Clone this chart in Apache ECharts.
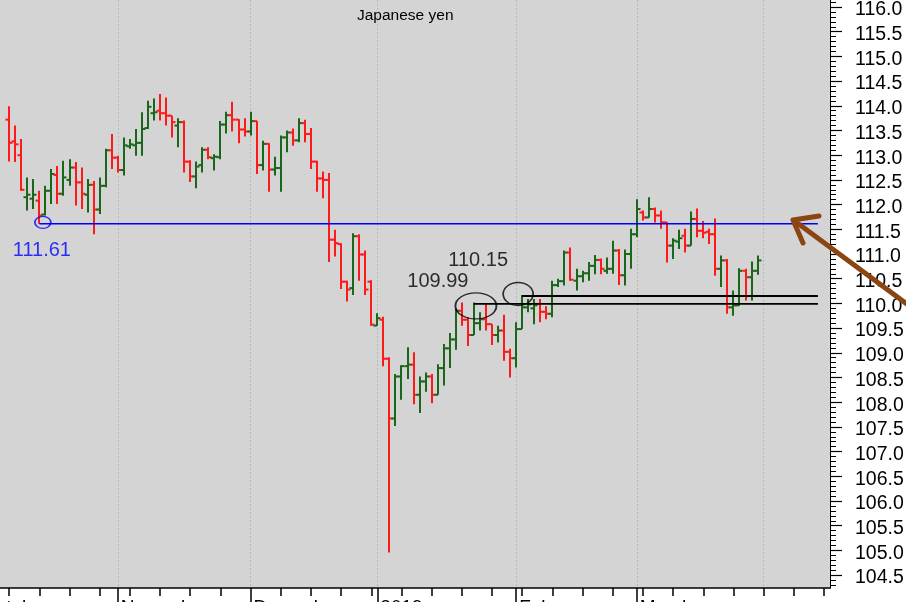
<!DOCTYPE html>
<html><head><meta charset="utf-8">
<script src="https://cdn.jsdelivr.net/npm/echarts@6/dist/echarts.min.js"></script>
<style>html,body{margin:0;padding:0;background:#fff}#c{width:906px;height:602px}</style>
</head><body><div id="c"></div>
<script>
// ---- data (USD/JPY daily OHLC) ----
const firstBarDate = '2018-10-08';
const axisStart = '2018-10-01';
const axisEnd = '2019-04-16';
const openP = [
113.72,113.28,113.00,112.15,112.12,112.08,111.80,112.28,112.60,112.22,112.50,112.75,112.45,112.20,112.40,111.90,112.38,113.10,
112.95,112.70,113.18,113.20,113.25,113.55,113.85,113.90,113.85,113.80,113.60,113.67,112.87,112.57,112.80,113.11,112.94,112.96,113.62,113.81,113.72,113.52,
113.48,113.69,112.80,113.23,112.71,112.74,113.36,113.46,113.30,113.65,113.43,112.87,112.53,112.50,111.29,111.20,110.44,110.31,111.36,110.99,110.44,
109.55,109.67,108.88,107.67,108.52,108.73,108.76,108.15,108.42,108.52,108.15,108.69,109.09,109.27,109.85,109.67,109.36,109.60,109.68,109.58,109.36,109.45,109.02,
108.89,109.48,109.92,109.90,109.99,109.83,109.79,110.37,110.45,111.03,110.46,110.55,110.61,110.76,110.88,110.66,110.70,111.07,110.57,111.00,
111.40,111.84,111.74,111.91,111.78,111.64,111.17,111.25,111.37,111.17,111.71,111.47,111.45,111.40,110.70,110.87,109.92,109.96,110.66,110.53,110.66];
const highP = [
113.99,113.60,113.33,112.55,112.52,112.28,112.38,112.72,112.78,112.89,112.92,112.86,112.75,112.52,112.48,112.55,113.13,113.43,
112.99,113.36,113.33,113.53,113.87,114.10,114.15,114.24,114.17,113.80,113.75,113.70,112.90,112.87,113.16,113.16,113.02,113.69,113.88,114.08,113.73,113.75,
113.88,113.69,113.29,113.24,112.97,113.40,113.50,113.54,113.75,113.72,113.55,112.89,112.67,112.64,111.49,111.22,110.46,111.42,111.40,111.07,110.47,
109.80,109.73,108.91,108.57,108.75,109.11,109.01,108.52,108.60,108.57,108.77,109.18,109.40,109.89,110.02,109.72,110.02,109.82,109.99,109.58,109.55,109.77,109.08,
109.62,110.17,110.09,110.09,110.09,109.94,110.46,110.50,111.07,111.13,110.70,110.66,110.84,110.98,110.91,110.93,111.27,111.10,111.09,111.51,
112.11,111.88,112.15,111.94,111.88,111.65,111.32,111.49,111.51,111.86,111.92,111.67,111.51,111.72,110.97,110.90,110.26,110.71,110.70,110.85,110.97];
const lowP = [
112.87,112.86,112.28,111.88,111.91,111.61,111.78,112.01,112.01,112.18,112.38,111.98,111.91,111.84,111.40,111.81,112.35,112.72,
112.65,112.59,113.13,112.99,112.99,113.53,113.70,113.70,113.60,113.36,113.16,112.65,112.46,112.33,112.65,112.92,112.69,112.92,113.44,113.48,113.24,113.38,
113.40,112.62,112.69,112.26,112.59,112.26,113.06,113.19,113.26,113.26,112.72,112.26,112.13,110.84,110.95,110.29,110.04,110.17,110.46,110.17,109.55,
109.55,108.73,104.96,107.52,108.05,108.47,107.96,107.78,108.21,107.98,108.15,108.34,108.69,109.06,109.55,109.14,109.36,109.45,109.45,109.16,109.21,108.84,108.50,
108.70,109.48,109.82,109.58,109.62,109.68,109.72,110.33,110.36,110.46,110.26,110.43,110.46,110.59,110.59,110.60,110.60,110.37,110.36,110.70,
111.34,111.68,111.74,111.64,111.51,110.83,110.90,111.10,111.03,111.17,111.34,111.32,111.20,110.56,110.33,109.79,109.75,109.95,110.06,110.06,110.58];
const closeP = [
113.25,113.22,112.30,112.20,112.20,111.78,112.28,112.62,112.22,112.55,112.75,112.45,112.22,112.40,111.90,112.38,113.10,112.95,
112.70,113.20,113.22,113.25,113.53,113.98,113.87,113.85,113.80,113.67,113.67,112.87,112.57,112.77,113.11,112.96,112.97,113.62,113.81,113.72,113.52,113.48,
113.69,112.80,113.23,112.71,112.74,113.36,113.46,113.30,113.65,113.43,112.87,112.53,112.50,111.29,111.22,110.44,110.28,111.36,110.99,110.28,109.57,
109.70,108.88,107.67,108.52,108.73,108.76,108.15,108.42,108.52,108.15,108.69,109.09,109.27,109.85,109.67,109.36,109.60,109.68,109.58,109.36,109.45,109.02,108.89,
109.48,109.92,109.98,109.96,109.83,109.79,110.37,110.45,111.03,110.48,110.55,110.61,110.76,110.88,110.70,110.70,111.07,110.57,111.00,111.40,
111.91,111.74,111.91,111.78,111.64,111.17,111.27,111.32,111.17,111.71,111.47,111.43,111.40,110.70,110.87,109.92,109.96,110.66,110.53,110.66,110.87];

// tick labels
const monthKeys = ['2018-10','2018-11','2018-12','2019-01','2019-02','2019-03','2019-04'];
const monthLabels = ['October','November','December','2019','February','March','April'];

// annotated levels
const levelValues = [111.61, 110.15, 109.99];
const levelLabels = ['111.61', '110.15', '109.99'];
const levelStartDates = ['2018-10-15', '2019-02-04', '2019-01-23'];
const levelMarkDates = ['2018-10-15', '2019-02-01', '2019-01-23'];
const levelEndDate = '2019-04-12';
const titleText = 'Japanese yen';

// ---- build ----
const cats = [];
for (let t = Date.UTC(+axisStart.slice(0,4), +axisStart.slice(5,7)-1, +axisStart.slice(8,10));
     t <= Date.UTC(+axisEnd.slice(0,4), +axisEnd.slice(5,7)-1, +axisEnd.slice(8,10)); t += 86400000) {
  const d = new Date(t); const w = d.getUTCDay();
  if (w === 0 || w === 6) continue;
  cats.push(d.toISOString().slice(0,10));
}
const isMonthStart = cats.map((c,i) => i === 0 || c.slice(0,7) !== cats[i-1].slice(0,7));
const isMonday = cats.map(c => new Date(c + 'T00:00:00Z').getUTCDay() === 1);
const first = cats.indexOf(firstBarDate);
const bars = openP.map((o,i) => [first + i, o, highP[i], lowP[i], closeP[i]]);
const ci = d => cats.indexOf(d);

const RED = '#ff1a1a', GREEN = '#1a661a';
const FONT = 'Liberation Sans, Arial, sans-serif';
const yFmt = v => (v < 104.25 || v > 116.25) ? '' : v.toFixed(1);

const chart = echarts.init(document.getElementById('c'), null, {renderer:'canvas'});
chart.setOption({
  backgroundColor: '#ffffff',
  animation: false,
  title: { text: titleText, left: 352, top: 3,
    textStyle: { fontSize: 15.5, fontWeight: 'normal', color: '#000', fontFamily: FONT } },
  grid: [
    { left: -21, right: 76, top: -17.7, bottom: 2.2, outerBoundsMode: 'none', containLabel: false },
    { left: -21, right: 76, top: 0, bottom: 14, show: true, backgroundColor: '#d4d4d4', borderWidth: 0, outerBoundsMode: 'none', containLabel: false },
    { left: -21, right: 76, top: -14.7, bottom: -0.8, outerBoundsMode: 'none', containLabel: false }
  ],
  xAxis: [
    { type: 'category', gridIndex: 0, data: cats, boundaryGap: false, show: false },
    { type: 'category', gridIndex: 1, data: cats, boundaryGap: false, position: 'bottom',
      axisLine: { show: true, onZero: false, lineStyle: { color: '#000', width: 1.5 } },
      axisTick: { show: true, interval: (i) => isMonthStart[i], length: 14, lineStyle: { color: '#000', width: 1.5 } },
      axisLabel: { show: true, interval: (i) => isMonthStart[i], showMinLabel: true, showMaxLabel: false, hideOverlap: false,
        formatter: (v) => { const k = monthKeys.indexOf(v.slice(0,7)); return isMonthStart[cats.indexOf(v)] && k >= 0 ? monthLabels[k] : ''; },
        align: 'left', verticalAlign: 'top', margin: 10, padding: [0,0,0,3],
        color: '#000', fontSize: 19, fontFamily: FONT },
      splitLine: { show: true, interval: (i) => isMonthStart[i], lineStyle: { color: '#b9b9b9', type: [2,2], width: 1 } } },
    { type: 'category', gridIndex: 1, data: cats, boundaryGap: false, position: 'bottom',
      axisLine: { show: false, onZero: false },
      axisTick: { show: true, interval: (i) => isMonday[i], length: 8, lineStyle: { color: '#000', width: 1.5 } },
      axisLabel: { show: false }, splitLine: { show: false } },
    { type: 'category', gridIndex: 2, data: cats, boundaryGap: false, show: false }
  ],
  yAxis: [
    { type: 'value', gridIndex: 0, position: 'right', min: 104, max: 116.5, interval: 0.5,
      axisLine: { show: false },
      axisTick: { show: true, inside: false, length: 12, lineStyle: { color: '#000', width: 1.2 } },
      minorTick: { show: true, splitNumber: 5, length: 6, lineStyle: { color: '#000', width: 1 } },
      axisLabel: { show: false }, splitLine: { show: false } },
    { type: 'value', gridIndex: 1, position: 'right', min: 0, max: 1,
      axisLine: { show: true, lineStyle: { color: '#000', width: 1 } },
      axisTick: { show: false }, axisLabel: { show: false }, splitLine: { show: false } },
    { type: 'value', gridIndex: 2, position: 'right', min: 104, max: 116.5, interval: 0.5,
      axisLine: { show: false }, axisTick: { show: false }, splitLine: { show: false },
      axisLabel: { show: true, margin: 25, color: '#000', fontSize: 19.5, fontFamily: FONT, hideOverlap: false,
        formatter: yFmt } }
  ],
  series: [
    { type: 'custom', xAxisIndex: 0, yAxisIndex: 0, data: bars, z: 2,
      encode: { x: 0, y: [1,2,3,4] },
      renderItem: (params, api) => {
        const x = api.value(0);
        const o = api.coord([x, api.value(1)]);
        const h = api.coord([x, api.value(2)]);
        const l = api.coord([x, api.value(3)]);
        const c = api.coord([x, api.value(4)]);
        const color = api.value(4) >= api.value(1) ? GREEN : RED;
        const cx = Math.round(h[0]);
        const st = { stroke: color, lineWidth: 2 };
        return { type: 'group', children: [
          { type: 'line', shape: { x1: cx, y1: h[1], x2: cx, y2: l[1] }, style: st },
          { type: 'line', shape: { x1: cx - 3.5, y1: o[1], x2: cx, y2: o[1] }, style: st },
          { type: 'line', shape: { x1: cx, y1: c[1], x2: cx + 3.5, y2: c[1] }, style: st }
        ]};
      } },
    { type: 'line', xAxisIndex: 0, yAxisIndex: 0, z: 4, symbol: 'none', silent: true,
      data: [[ci(levelStartDates[0]), levelValues[0]], [ci(levelEndDate), levelValues[0]]],
      lineStyle: { color: '#0000ff', width: 1.5 } },
    { type: 'line', xAxisIndex: 0, yAxisIndex: 0, z: 4, symbol: 'none', silent: true,
      data: [[ci(levelStartDates[1]), levelValues[1]], [ci(levelEndDate), levelValues[1]]],
      lineStyle: { color: '#000', width: 1.8 } },
    { type: 'line', xAxisIndex: 0, yAxisIndex: 0, z: 4, symbol: 'none', silent: true,
      data: [[ci(levelStartDates[2]), levelValues[2]], [ci(levelEndDate), levelValues[2]]],
      lineStyle: { color: '#000', width: 1.8 } },
    { type: 'scatter', xAxisIndex: 0, yAxisIndex: 0, z: 5, silent: true,
      data: [[ci(levelMarkDates[0]), levelValues[0]]],
      symbol: 'circle', symbolSize: [16, 12], symbolOffset: [3.5, -1.5],
      itemStyle: { color: 'rgba(0,0,0,0)', borderColor: '#0000ff', borderWidth: 1.5 },
      label: { show: true, formatter: levelLabels[0], position: 'inside', offset: [-1, 28.5],
        color: '#0000ff', fontSize: 20, fontFamily: FONT } },
    { type: 'scatter', xAxisIndex: 0, yAxisIndex: 0, z: 5, silent: true,
      data: [[ci(levelMarkDates[1]), levelValues[1]]],
      symbol: 'circle', symbolSize: [30, 23], symbolOffset: [2, -2],
      itemStyle: { color: 'rgba(0,0,0,0)', borderColor: '#000', borderWidth: 1.5 },
      label: { show: true, formatter: levelLabels[1], position: 'inside', offset: [-40, -34],
        color: '#000', fontSize: 20, fontFamily: FONT } },
    { type: 'scatter', xAxisIndex: 0, yAxisIndex: 0, z: 5, silent: true,
      data: [[ci(levelMarkDates[2]), levelValues[2]]],
      symbol: 'circle', symbolSize: [41, 26], symbolOffset: [2, 2],
      itemStyle: { color: 'rgba(0,0,0,0)', borderColor: '#000', borderWidth: 1.5 },
      label: { show: true, formatter: levelLabels[2], position: 'inside', offset: [-38, -24],
        color: '#000', fontSize: 20, fontFamily: FONT } }
  ],
  graphic: [
    { type: 'rect', shape: { x: 827, y: 589, width: 79, height: 13 }, style: { fill: '#fff' }, z: 100, silent: true },
    { type: 'line', shape: { x1: 796, y1: 222, x2: 915, y2: 310 }, style: { stroke: '#8b4513', lineWidth: 5, lineCap: 'round' }, z: 101, silent: true },
    { type: 'polyline', shape: { points: [[819, 216], [793, 220], [803, 243]] },
      style: { stroke: '#8b4513', lineWidth: 5, lineCap: 'round', lineJoin: 'round', fill: null }, z: 101, silent: true }
  ]
});
</script>
</body></html>
